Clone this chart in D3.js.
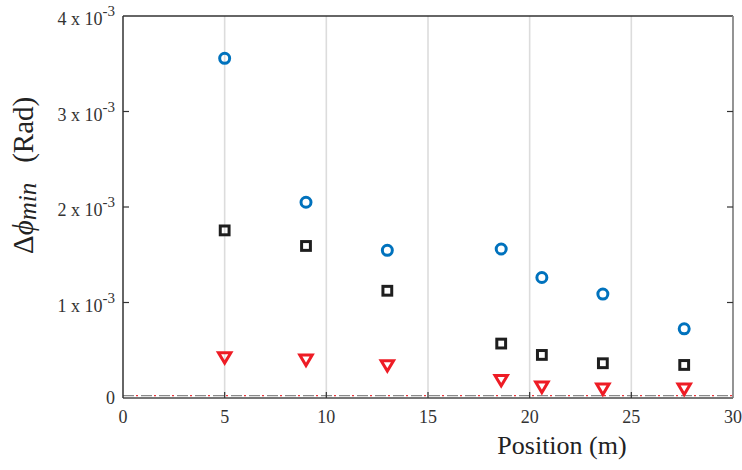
<!DOCTYPE html>
<html>
<head>
<meta charset="utf-8">
<script src="https://cdn.jsdelivr.net/npm/d3@7"></script>
<style>
  html, body { margin: 0; padding: 0; background: #fff; }
  svg { display: block; }
  svg text { font-family: "Liberation Serif", "DejaVu Serif", serif; }
</style>
</head>
<body>
<svg id="chart" width="742" height="470"></svg>
<script>
// Measurement positions along the line (m)
const positions = [5, 9, 13, 18.6, 20.6, 23.6, 27.6];
// Minimum detectable phase change (rad) for three configurations
const circleValues   = [3.557e-3, 2.050e-3, 1.546e-3, 1.560e-3, 1.262e-3, 1.088e-3, 0.724e-3];
const squareValues   = [1.755e-3, 1.592e-3, 1.123e-3, 0.570e-3, 0.451e-3, 0.364e-3, 0.346e-3];
const triangleValues = [0.420e-3, 0.395e-3, 0.336e-3, 0.182e-3, 0.112e-3, 0.091e-3, 0.091e-3];
// Noise floor reference level
const floorLevel = 0.025e-3;

const xTicks = [0, 5, 10, 15, 20, 25, 30];
const xGrid = [5, 10, 15, 20, 25];
const yTicks = [0, 1e-3, 2e-3, 3e-3, 4e-3];
const yTickMantissa = ["0", "1 x 10", "2 x 10", "3 x 10", "4 x 10"];
const yTickExponent = ["", "-3", "-3", "-3", "-3"];

const FONT = "Liberation Serif, DejaVu Serif, serif";
const svg = d3.select("#chart");
const plotL = 123, plotR = 733, plotT = 16, plotB = 398;

const x = d3.scaleLinear().domain([0, 30]).range([plotL, plotR]);
const y = d3.scaleLinear().domain([0, 4e-3]).range([plotB, plotT]);

// vertical grid
svg.append("g").selectAll("line").data(xGrid).join("line")
  .attr("x1", d => x(d)).attr("x2", d => x(d))
  .attr("y1", plotT).attr("y2", plotB)
  .attr("stroke", "#dcdcdc").attr("stroke-width", 1.6);

// noise floor: grey dashes with red dots between them
svg.append("line")
  .attr("x1", plotL).attr("x2", plotR)
  .attr("y1", y(floorLevel)).attr("y2", y(floorLevel))
  .attr("stroke", "#8a8a8a").attr("stroke-width", 1.3)
  .attr("stroke-dasharray", "11 7");
svg.append("line")
  .attr("x1", plotL).attr("x2", plotR)
  .attr("y1", y(floorLevel)).attr("y2", y(floorLevel))
  .attr("stroke", "#e8343a").attr("stroke-width", 1.3)
  .attr("stroke-dasharray", "2 16").attr("stroke-dashoffset", -13);

// frame
svg.append("line").attr("x1", plotL).attr("x2", plotR).attr("y1", plotT).attr("y2", plotT)
  .attr("stroke", "#333").attr("stroke-width", 1.5);
svg.append("line").attr("x1", plotR).attr("x2", plotR).attr("y1", plotT).attr("y2", plotB)
  .attr("stroke", "#888").attr("stroke-width", 1.8);
svg.append("line").attr("x1", plotL).attr("x2", plotR).attr("y1", plotB).attr("y2", plotB)
  .attr("stroke", "#777").attr("stroke-width", 2);
svg.append("line").attr("x1", plotL).attr("x2", plotL).attr("y1", plotT).attr("y2", plotB)
  .attr("stroke", "#333").attr("stroke-width", 1.5);

// x ticks (inward) and labels
const xt = svg.append("g");
xt.selectAll("line").data(xTicks.slice(1, -1)).join("line")
  .attr("x1", d => x(d)).attr("x2", d => x(d))
  .attr("y1", plotB).attr("y2", plotB - 6)
  .attr("stroke", "#333").attr("stroke-width", 1.2);
xt.selectAll("text").data(xTicks).join("text")
  .attr("x", d => x(d)).attr("y", 423)
  .attr("text-anchor", "middle")
  .attr("font-family", FONT)
  .attr("font-size", 18).attr("fill", "#333")
  .text(d => d);

// y ticks (inward on both sides) and labels
const yt = svg.append("g");
yt.selectAll("line.l").data(yTicks.slice(1, -1)).join("line").attr("class", "l")
  .attr("x1", plotL).attr("x2", plotL + 6)
  .attr("y1", d => y(d)).attr("y2", d => y(d))
  .attr("stroke", "#333").attr("stroke-width", 1.2);
yt.selectAll("line.r").data(yTicks.slice(1, -1)).join("line").attr("class", "r")
  .attr("x1", plotR).attr("x2", plotR - 6)
  .attr("y1", d => y(d)).attr("y2", d => y(d))
  .attr("stroke", "#333").attr("stroke-width", 1.2);
yTicks.forEach((v, i) => {
  const t = yt.append("text")
    .attr("x", 115)
    .attr("y", y(v) + (i === 0 ? 6 : 9))
    .attr("text-anchor", "end")
    .attr("font-family", FONT)
    .attr("fill", "#333");
  t.append("tspan").attr("font-size", 18).text(yTickMantissa[i]);
  if (yTickExponent[i]) {
    t.append("tspan").attr("font-size", 15).attr("dy", -9).text(yTickExponent[i]);
  }
});

// axis titles
svg.append("text")
  .attr("x", 562).attr("y", 454)
  .attr("text-anchor", "middle")
  .attr("font-family", FONT)
  .attr("font-size", 26).attr("fill", "#222")
  .text("Position (m)");

const yl = svg.append("text")
  .attr("transform", "translate(33,254) rotate(-90)")
  .attr("text-anchor", "start")
  .attr("font-family", FONT)
  .attr("font-size", 29).attr("fill", "#222");
yl.append("tspan").text("Δ");
yl.append("tspan").attr("font-style", "italic").text("ϕ");
yl.append("tspan").attr("font-style", "italic").attr("font-size", 25).attr("dy", 3).text("min");
yl.append("tspan").attr("dy", -3).attr("dx", 20).text("(Rad)");

// markers
const pts = (vals) => positions.map((p, i) => ({ p, v: vals[i] }));

svg.append("g").selectAll("circle").data(pts(circleValues)).join("circle")
  .attr("cx", d => x(d.p)).attr("cy", d => y(d.v)).attr("r", 5)
  .attr("fill", "none").attr("stroke", "#0072BD").attr("stroke-width", 3);

svg.append("g").selectAll("rect").data(pts(squareValues)).join("rect")
  .attr("x", d => x(d.p) - 4.4).attr("y", d => y(d.v) - 4.4)
  .attr("width", 8.8).attr("height", 8.8)
  .attr("fill", "none").attr("stroke", "#1e1e1e").attr("stroke-width", 3);

// downward triangle centred on its bounding box
const triangleDown = {
  draw(ctx) {
    const w = 6.2, h = 5.2;
    ctx.moveTo(-w, -h);
    ctx.lineTo(w, -h);
    ctx.lineTo(0, h);
    ctx.closePath();
  }
};
svg.append("g").selectAll("path").data(pts(triangleValues)).join("path")
  .attr("d", d3.symbol().type(triangleDown))
  .attr("transform", d => `translate(${x(d.p)},${y(d.v)})`)
  .attr("fill", "none").attr("stroke", "#ee1c25").attr("stroke-width", 3)
  .attr("stroke-linejoin", "miter");
</script>
</body>
</html>
